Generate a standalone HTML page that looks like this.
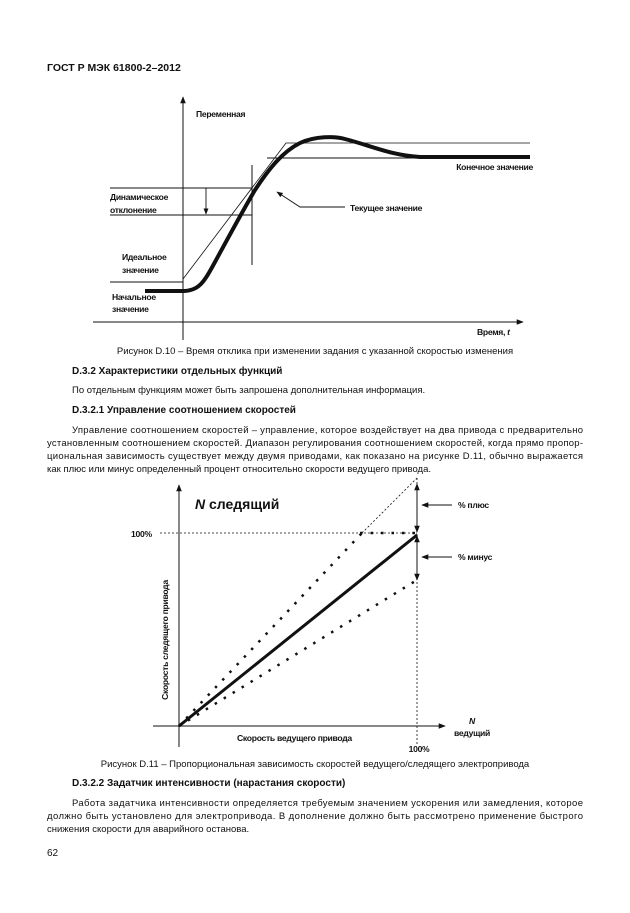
<!DOCTYPE html>
<html><head><meta charset="utf-8"><style>
html,body{margin:0;padding:0;background:#fff}
svg{display:block}
text{font-family:"Liberation Sans",Arial,sans-serif;fill:#111}
.b{font-size:9.5px}
.l{font-size:8.6px;font-weight:bold;letter-spacing:-0.3px}
.h{font-size:10px;font-weight:bold}
</style></head><body>
<svg width="630" height="913" viewBox="0 0 630 913" xmlns="http://www.w3.org/2000/svg">
<defs>
<marker id="ah" viewBox="0 0 10 10" refX="9" refY="5" markerWidth="7" markerHeight="7" orient="auto-start-reverse"><path d="M0,1 L10,5 L0,9 z" fill="#111"/></marker>
</defs>
<text x="47" y="71" class="h" style="font-size:10.5px">ГОСТ Р МЭК 61800-2–2012</text>

<!-- Chart 1 -->
<g stroke="#111" fill="none">
<line x1="183" y1="340" x2="183" y2="97" stroke-width="1" marker-end="url(#ah)"/>
<line x1="93" y1="322" x2="523" y2="322" stroke-width="1" marker-end="url(#ah)"/>
<polyline points="183,279 286,143 530,143" stroke-width="0.8"/>
<line x1="267" y1="158" x2="530" y2="158" stroke-width="1"/>
<line x1="252" y1="165" x2="252" y2="265" stroke-width="1"/>
<line x1="110" y1="188" x2="252" y2="188" stroke-width="0.9"/>
<line x1="110" y1="215" x2="252" y2="215" stroke-width="0.9"/>
<line x1="206" y1="188" x2="206" y2="214" stroke-width="0.9" marker-end="url(#ah)"/>
<line x1="110" y1="282" x2="183" y2="282" stroke-width="0.9"/>
<path d="M145,291 L183,291 C200,291 205,280 215,262 C228,238 242,212 255,190 C268,170 282,152 300,143 C315,136 335,136 345,139 C372,146 390,155 420,157 L530,157" stroke-width="4"/>
<polyline points="345,207 300,207 277,192" stroke-width="0.9" marker-end="url(#ah)"/>
</g>
<text x="196" y="117" class="l">Переменная</text>
<text x="110" y="200" class="l">Динамическое</text>
<text x="110" y="213" class="l">отклонение</text>
<text x="122" y="260" class="l">Идеальное</text>
<text x="122" y="273" class="l">значение</text>
<text x="112" y="300" class="l">Начальное</text>
<text x="112" y="312" class="l">значение</text>
<text x="533" y="170" class="l" text-anchor="end">Конечное значение</text>
<text x="350" y="211" class="l">Текущее значение</text>
<text x="477" y="335" class="l">Время, <tspan font-style="italic">t</tspan></text>

<text x="315" y="354" class="b" text-anchor="middle">Рисунок D.10 – Время отклика при изменении задания с указанной скоростью изменения</text>
<text x="72" y="374" class="h">D.3.2 Характеристики отдельных функций</text>
<text x="72" y="393" class="b">По отдельным функциям может быть запрошена дополнительная информация.</text>
<text x="72" y="413" class="h">D.3.2.1 Управление соотношением скоростей</text>
<text x="72" y="433" class="b" textLength="511" lengthAdjust="spacing">Управление соотношением скоростей – управление, которое воздействует на два привода с предварительно</text>
<text x="47" y="446" class="b" textLength="536" lengthAdjust="spacing">установленным соотношением скоростей. Диапазон регулирования соотношением скоростей, когда прямо пропор-</text>
<text x="47" y="459" class="b" textLength="536" lengthAdjust="spacing">циональная зависимость существует между двумя приводами, как показано на рисунке D.11, обычно выражается</text>
<text x="47" y="472" class="b">как плюс или минус определенный процент относительно скорости ведущего привода.</text>

<!-- Chart 2 -->
<g stroke="#111" fill="none">
<line x1="179" y1="747" x2="179" y2="485" stroke-width="1" marker-end="url(#ah)"/>
<line x1="153" y1="726" x2="445" y2="726" stroke-width="1" marker-end="url(#ah)"/>
<line x1="160" y1="533" x2="417" y2="533" stroke-width="0.8" stroke-dasharray="2,2"/>
<line x1="360" y1="533" x2="417" y2="533" stroke-width="2.4" stroke-dasharray="2.5,8"/>
<line x1="417" y1="478" x2="417" y2="745" stroke-width="0.8" stroke-dasharray="2,2"/>
<line x1="179" y1="726" x2="417" y2="535" stroke-width="3"/>
<line x1="179" y1="726" x2="362" y2="533" stroke-width="2.5" stroke-dasharray="2.5,8"/>
<line x1="362" y1="533" x2="417" y2="478" stroke-width="0.8" stroke-dasharray="2,2"/>
<line x1="179" y1="726" x2="417" y2="580" stroke-width="2.5" stroke-dasharray="2.5,8"/>
<line x1="417" y1="508" x2="417" y2="484" stroke-width="1" marker-end="url(#ah)"/>
<line x1="417" y1="508" x2="417" y2="532" stroke-width="1" marker-end="url(#ah)"/>
<line x1="417" y1="558" x2="417" y2="536" stroke-width="1" marker-end="url(#ah)"/>
<line x1="417" y1="558" x2="417" y2="580" stroke-width="1" marker-end="url(#ah)"/>
<line x1="452" y1="505" x2="422" y2="505" stroke-width="1" marker-end="url(#ah)"/>
<line x1="452" y1="557" x2="422" y2="557" stroke-width="1" marker-end="url(#ah)"/>
</g>
<text x="195" y="509" style="font-size:14px;font-weight:bold"><tspan font-style="italic">N</tspan> следящий</text>
<text x="131" y="537" class="l">100%</text>
<text x="458" y="508" class="l">% плюс</text>
<text x="458" y="560" class="l">% минус</text>
<text x="168" y="640" class="l" text-anchor="middle" transform="rotate(-90 168 640)">Скорость следящего привода</text>
<text x="237" y="741" class="l">Скорость ведущего привода</text>
<text x="472" y="724" class="l" text-anchor="middle" font-style="italic">N</text>
<text x="472" y="736" class="l" text-anchor="middle">ведущий</text>
<text x="419" y="752" class="l" text-anchor="middle">100%</text>

<text x="315" y="767" class="b" text-anchor="middle">Рисунок D.11 – Пропорциональная зависимость скоростей ведущего/следящего электропривода</text>
<text x="72" y="786" class="h">D.3.2.2 Задатчик интенсивности (нарастания скорости)</text>
<text x="72" y="806" class="b" textLength="511" lengthAdjust="spacing">Работа задатчика интенсивности определяется требуемым значением ускорения или замедления, которое</text>
<text x="47" y="819" class="b" textLength="536" lengthAdjust="spacing">должно быть установлено для электропривода. В дополнение должно быть рассмотрено применение быстрого</text>
<text x="47" y="832" class="b">снижения скорости для аварийного останова.</text>
<text x="47" y="856" class="b" style="font-size:10px">62</text>
</svg>
</body></html>
